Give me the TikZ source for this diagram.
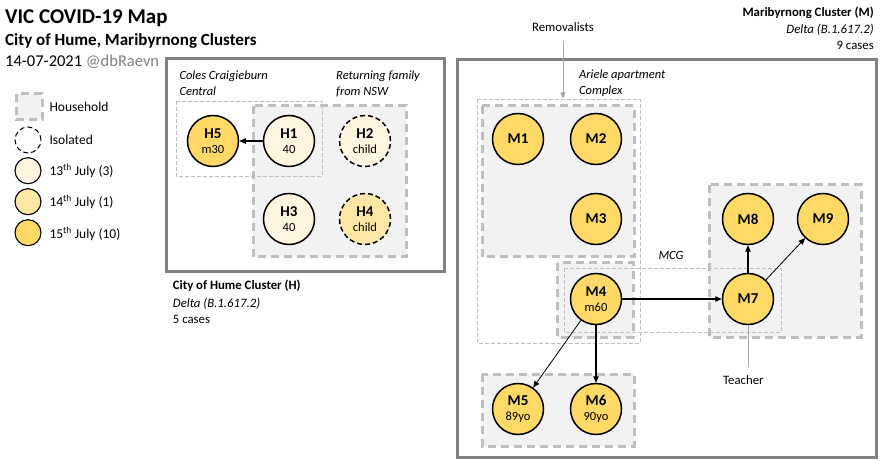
\documentclass[tikz,border=0pt]{standalone}
\usepackage{fontspec}
\setmainfont{Carlito}
\usetikzlibrary{arrows.meta}
\definecolor{cA}{HTML}{FFF4DF}
\definecolor{cB}{HTML}{FFE8A6}
\definecolor{cC}{HTML}{FFD966}
\definecolor{hhfill}{HTML}{F2F2F2}
\definecolor{hhline}{HTML}{BFBFBF}
\definecolor{thinline}{HTML}{BFBFBF}
\definecolor{outline}{HTML}{7F7F7F}
\definecolor{graytxt}{HTML}{808080}
\definecolor{pointer}{HTML}{A6A6A6}
\tikzset{
  casenode/.style={circle,draw=black,line width=1.5pt,minimum size=51pt,inner sep=0pt,align=center,
    font=\fontsize{12.5}{14.6}\selectfont},
  legcircle/.style={circle,draw=black,line width=1.1pt,minimum size=26pt,inner sep=0pt},
  dayA/.style={fill=cA},
  dayB/.style={fill=cB},
  dayC/.style={fill=cC},
  isol/.style={dash pattern=on 5pt off 3pt},
  household/.style={draw=hhline,fill=hhfill,line width=3pt,dash pattern=on 8pt off 5pt},
  thinbox/.style={draw=thinline,line width=0.8pt,dash pattern=on 4pt off 2pt},
  outerbox/.style={draw=outline,line width=3pt},
  lbl/.style={anchor=base west,inner sep=0pt},
  ilbl/.style={anchor=base west,inner sep=0pt,font=\fontsize{12.5}{14}\selectfont\itshape},
  conn/.style={line width=1.1pt,-{Triangle[length=6.5pt,width=5.5pt]}},
  thinconn/.style={line width=0.8pt,-{Triangle[length=6.5pt,width=5.5pt]}},
}
\newcommand\cs[2]{{\fontsize{15}{14.6}\selectfont\bfseries #1}\\#2}
\newcommand\cb[1]{{\fontsize{15}{15}\selectfont\bfseries #1}}
\begin{document}
\begin{tikzpicture}[x=1pt,y=-1pt]
\useasboundingbox (0,0) rectangle (884,465);
% titles
\node[lbl,font=\fontsize{21}{24}\selectfont\bfseries] (t1) at (5,23.5) {VIC COVID-19 Map};
\node[lbl,font=\fontsize{17}{20}\selectfont\bfseries] (t2) at (5,45.7) {City of Hume, Maribyrnong Clusters};
\node[lbl,font=\fontsize{16.5}{20}\selectfont] (t3) at (5,66.7) {14-07-2021 \textcolor{graytxt}{@dbRaevn}};
% legend
\draw[household] (16,94) rectangle (42,120);
\node[lbl,font=\fontsize{13.5}{16}\selectfont] (lg1) at (49.3,111.7) {Household};
\node[legcircle,isol,line width=1pt] (lc2) at (28,140) {};
\node[lbl,font=\fontsize{13.5}{16}\selectfont] (lg2) at (49.3,145) {Isolated};
\node[legcircle,dayA] (lc3) at (28,170.7) {};
\node[lbl,font=\fontsize{13.5}{16}\selectfont] (lg3) at (49.3,175.7) {13\textsuperscript{th} July (3)};
\node[legcircle,dayB] (lc4) at (28,201.7) {};
\node[lbl,font=\fontsize{13.5}{16}\selectfont] (lg4) at (49.3,206.7) {14\textsuperscript{th} July (1)};
\node[legcircle,dayC] (lc5) at (28,232.7) {};
\node[lbl,font=\fontsize{13.5}{16}\selectfont] (lg5) at (49.3,238.3) {15\textsuperscript{th} July (10)};
% Hume cluster
\draw[outerbox] (166,59) rectangle (444,272);
\draw[household] (253,106) rectangle (406,257);
\draw[thinbox] (176,101) rectangle (322,176);
\node[ilbl] (coles1) at (179.3,80) {Coles Craigieburn};
\node[ilbl] (coles2) at (179.3,95.7) {Central};
\node[ilbl] (ret1) at (336,80) {Returning family};
\node[ilbl] (ret2) at (336,95.7) {from NSW};
\node[casenode,dayC] (H5) at (213,141) {\cs{H5}{m30}};
\node[casenode,dayA] (H1) at (289,141) {\cs{H1}{40}};
\node[casenode,dayA,isol] (H2) at (365,141) {\cs{H2}{child}};
\node[casenode,dayA] (H3) at (289,219) {\cs{H3}{40}};
\node[casenode,dayB,isol] (H4) at (365,219) {\cs{H4}{child}};
\draw[conn] (H1) -- (H5);
\node[lbl,font=\fontsize{12.8}{15}\selectfont\bfseries] (hc1) at (172.7,290) {City of Hume Cluster (H)};
\node[lbl,font=\fontsize{12.8}{15}\selectfont\itshape] (hc2) at (172.7,307) {Delta (B.1.617.2)};
\node[lbl,font=\fontsize{12.8}{15}\selectfont] (hc3) at (172.7,323.5) {5 cases};
% Maribyrnong cluster
\node[anchor=base east,inner sep=0pt,font=\fontsize{12.8}{15}\selectfont\bfseries] (mc1) at (874,16.7) {Maribyrnong Cluster (M)};
\node[anchor=base east,inner sep=0pt,font=\fontsize{12.8}{15}\selectfont\itshape] (mc2) at (874,33.3) {Delta (B.1.617.2)};
\node[anchor=base east,inner sep=0pt,font=\fontsize{12.8}{15}\selectfont] (mc3) at (874,50) {9 cases};
\draw[outerbox] (457,60) rectangle (876,457);
\draw[household] (482,106) rectangle (634,257);
\draw[household] (557,263) rectangle (633,337);
\draw[household] (709,185) rectangle (861,337);
\draw[household] (482,374) rectangle (634,446);
\draw[thinbox] (477,99) rectangle (640,343);
\draw[thinbox] (564,268) rectangle (781,332);
\node[ilbl] (ar1) at (579,79) {Ariele apartment};
\node[ilbl] (ar2) at (579,95) {Complex};
\node[ilbl,anchor=base] (mcg) at (671,259.3) {MCG};
\node[anchor=base,inner sep=0pt,font=\fontsize{12.8}{15}\selectfont] (rem) at (563,31.7) {Removalists};
\coordinate (remBot) at (563,41.5);
\coordinate (ariTop) at (563,98.5);
\draw[draw=pointer,line width=0.8pt,-{Triangle[length=6pt,width=5pt]}] (remBot) -- (ariTop);
\node[anchor=base,inner sep=0pt,font=\fontsize{12.8}{15}\selectfont] (teacher) at (743.3,384) {Teacher};
\coordinate (teachTop) at (748,367);
\node[casenode,dayC] (M1) at (518,139) {\cb{M1}};
\node[casenode,dayC] (M2) at (596,139) {\cb{M2}};
\node[casenode,dayC] (M3) at (596,219) {\cb{M3}};
\node[casenode,dayC] (M8) at (748,219) {\cb{M8}};
\node[casenode,dayC] (M9) at (823,219) {\cb{M9}};
\node[casenode,dayC] (M4) at (596,299) {\cs{M4}{m60}};
\node[casenode,dayC] (M7) at (748,299) {\cb{M7}};
\node[casenode,dayC] (M5) at (518,409) {\cs{M5}{89yo}};
\node[casenode,dayC] (M6) at (596,409) {\cs{M6}{90yo}};
\draw[draw=pointer,line width=0.8pt] (M7.south) -- (teachTop);
\draw[conn] (M4) -- (M7);
\draw[conn] (M4) -- (M6);
\draw[thinconn] (M4) -- (M5);
\draw[conn] (M7) -- (M8);
\draw[thinconn] (M7) -- (M9);
\end{tikzpicture}
\end{document}
